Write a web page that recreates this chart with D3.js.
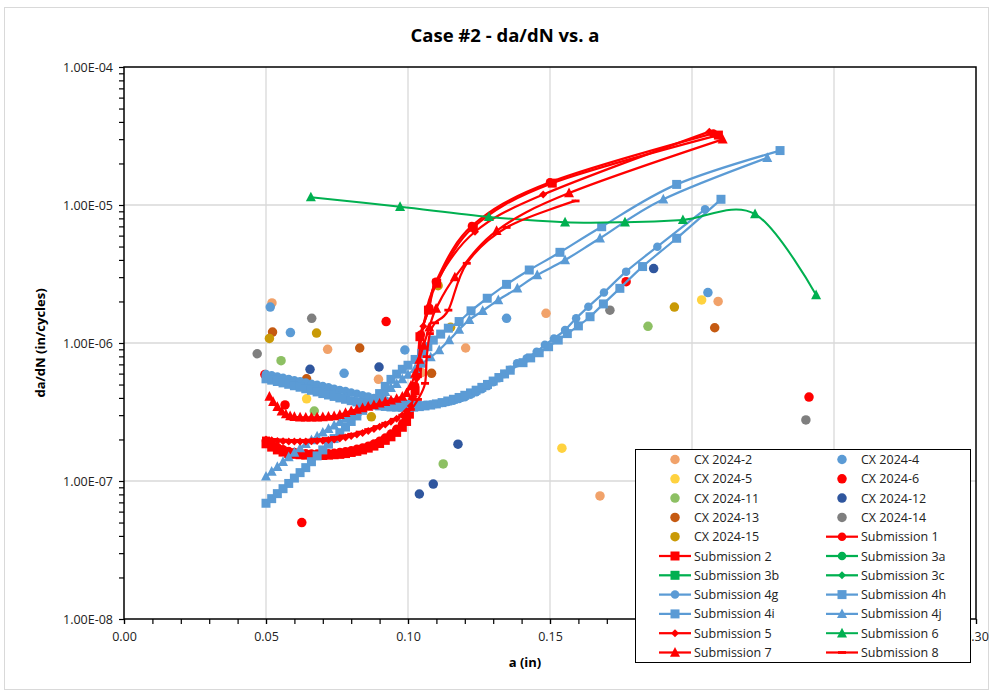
<!DOCTYPE html>
<html>
<head>
<meta charset="utf-8">
<script src="https://cdn.jsdelivr.net/npm/d3@7"></script>
<style>
  body { margin: 0; background: #fff; }
  svg { display: block; font-family: "Open Sans", sans-serif; }
</style>
</head>
<body>
<svg id="chart" width="993" height="691"></svg>
<script>
// ---- axis ticks ----
const xTicks = [0, 0.05, 0.10, 0.15, 0.20, 0.25, 0.30];
const yTicks = [1e-8, 1e-7, 1e-6, 1e-5, 1e-4];

// ---- scatter data: [a (in), da/dN (in/cycle)] ----
const cx2  = [[0.0521,1.95e-6],[0.0717,9.0e-7],[0.0896,5.46e-7],[0.1048,6.1e-7],[0.1203,9.2e-7],[0.1486,1.64e-6],[0.1676,7.8e-8],[0.2092,2.0e-6]];
const cx4  = [[0.0515,1.82e-6],[0.0586,1.19e-6],[0.0775,6.03e-7],[0.0989,8.9e-7],[0.1347,1.51e-6],[0.2056,2.32e-6]];
const cx5  = [[0.0643,3.94e-7],[0.1542,1.73e-7],[0.2034,2.05e-6]];
const cx6  = [[0.0496,5.9e-7],[0.0567,3.56e-7],[0.0626,5.0e-8],[0.0923,1.43e-6],[0.1768,2.78e-6],[0.2412,4.06e-7]];
const cx11 = [[0.0553,7.45e-7],[0.0670,3.21e-7],[0.1124,1.33e-7],[0.1845,1.32e-6]];
const cx12 = [[0.0655,6.45e-7],[0.0898,6.7e-7],[0.1040,8.05e-8],[0.1089,9.5e-8],[0.1176,1.85e-7],[0.1865,3.46e-6]];
const cx13 = [[0.0523,1.2e-6],[0.0643,5.5e-7],[0.0830,9.2e-7],[0.1083,6.03e-7],[0.2080,1.29e-6]];
const cx14 = [[0.0469,8.36e-7],[0.0661,1.51e-6],[0.1711,1.73e-6],[0.2401,2.77e-7]];
const cx15 = [[0.0512,1.08e-6],[0.0678,1.18e-6],[0.0871,2.92e-7],[0.1106,2.6e-6],[0.1150,1.3e-6],[0.1938,1.82e-6]];

// ---- submission curves: crack length a and growth rate ----
const sub1A = [0.050,0.052,0.054,0.056,0.058,0.060,0.062,0.064,0.066,0.068,0.070,0.072,0.074,0.076,0.078,0.080,0.082,0.084,0.086,0.088,0.090,0.092,0.094,0.096,0.098,0.0995,0.1005,0.1015,0.1025,0.1035,0.1045,0.1075,0.1098,0.1225,0.1500,0.2075];
const sub1Y = [1.95e-7,1.84e-7,1.76e-7,1.7e-7,1.65e-7,1.62e-7,1.6e-7,1.59e-7,1.58e-7,1.58e-7,1.58e-7,1.59e-7,1.6e-7,1.62e-7,1.64e-7,1.67e-7,1.71e-7,1.75e-7,1.8e-7,1.87e-7,1.96e-7,2.07e-7,2.21e-7,2.39e-7,2.62e-7,2.9e-7,3.3e-7,3.9e-7,4.9e-7,6.5e-7,1.15e-6,1.8e-6,2.78e-6,7.05e-6,1.46e-5,3.3e-5];

const sub2A = [0.050,0.052,0.054,0.056,0.058,0.060,0.062,0.064,0.066,0.068,0.070,0.072,0.074,0.076,0.078,0.080,0.082,0.084,0.086,0.088,0.090,0.092,0.094,0.096,0.098,0.0995,0.1005,0.1015,0.1025,0.1033,0.1042,0.1072,0.1101,0.1230,0.1508,0.2093];
const sub2Y = [1.86e-7,1.76e-7,1.68e-7,1.62e-7,1.58e-7,1.56e-7,1.55e-7,1.54e-7,1.53e-7,1.53e-7,1.53e-7,1.54e-7,1.55e-7,1.56e-7,1.58e-7,1.61e-7,1.64e-7,1.68e-7,1.73e-7,1.79e-7,1.87e-7,1.97e-7,2.09e-7,2.25e-7,2.45e-7,2.7e-7,3.05e-7,3.6e-7,4.5e-7,6.0e-7,1.11e-6,1.73e-6,2.71e-6,6.9e-6,1.44e-5,3.21e-5];

const sub3aA = [], sub3aY = [];
const sub3bA = [], sub3bY = [];
const sub3cA = [], sub3cY = [];

const sub4gA = [0.050,0.052,0.054,0.056,0.058,0.060,0.062,0.064,0.066,0.068,0.070,0.072,0.074,0.076,0.078,0.080,0.082,0.084,0.086,0.088,0.090,0.092,0.094,0.096,0.098,0.100,0.102,0.104,0.106,0.108,0.110,0.112,0.114,0.116,0.118,0.120,0.122,0.124,0.126,0.128,0.130,0.132,0.134,0.136,0.1384,0.1418,0.1453,0.1482,0.1514,0.1553,0.1592,0.1635,0.169,0.1768,0.1878,0.2046];
const sub4gY = [5.95e-7,5.83e-7,5.71e-7,5.59e-7,5.48e-7,5.38e-7,5.28e-7,5.17e-7,5.07e-7,4.98e-7,4.88e-7,4.78e-7,4.67e-7,4.57e-7,4.48e-7,4.38e-7,4.28e-7,4.19e-7,4.09e-7,4.0e-7,3.92e-7,3.84e-7,3.77e-7,3.71e-7,3.66e-7,3.62e-7,3.59e-7,3.57e-7,3.57e-7,3.59e-7,3.62e-7,3.67e-7,3.73e-7,3.82e-7,3.93e-7,4.05e-7,4.21e-7,4.4e-7,4.62e-7,4.87e-7,5.2e-7,5.56e-7,5.95e-7,6.4e-7,7.13e-7,7.75e-7,8.65e-7,9.7e-7,1.08e-6,1.24e-6,1.51e-6,1.83e-6,2.32e-6,3.29e-6,4.99e-6,9.3e-6];

const sub4hA = [0.050,0.052,0.054,0.056,0.058,0.060,0.062,0.064,0.066,0.068,0.070,0.072,0.074,0.076,0.078,0.080,0.082,0.084,0.086,0.088,0.090,0.092,0.094,0.096,0.098,0.100,0.1025,0.1048,0.1070,0.1089,0.1115,0.1142,0.1180,0.1222,0.1279,0.1347,0.1427,0.1535,0.1682,0.1946,0.2310];
const sub4hY = [6.9e-8,7.45e-8,8.1e-8,8.8e-8,9.6e-8,1.05e-7,1.15e-7,1.25e-7,1.38e-7,1.52e-7,1.68e-7,1.85e-7,2.03e-7,2.24e-7,2.46e-7,2.7e-7,2.96e-7,3.25e-7,3.55e-7,3.9e-7,4.3e-7,4.85e-7,5.45e-7,5.95e-7,6.45e-7,6.9e-7,7.6e-7,8.4e-7,9.4e-7,1.05e-6,1.16e-6,1.28e-6,1.43e-6,1.71e-6,2.11e-6,2.66e-6,3.38e-6,4.54e-6,6.96e-6,1.41e-5,2.48e-5];

const sub4iA = [0.050,0.052,0.054,0.056,0.058,0.060,0.062,0.064,0.066,0.068,0.070,0.072,0.074,0.076,0.078,0.080,0.082,0.084,0.086,0.088,0.090,0.092,0.094,0.096,0.098,0.100,0.102,0.104,0.106,0.108,0.110,0.112,0.114,0.116,0.118,0.120,0.122,0.124,0.126,0.128,0.130,0.132,0.134,0.136,0.1405,0.1432,0.1462,0.1495,0.1529,0.1561,0.160,0.1641,0.1688,0.1746,0.1826,0.1946,0.2102];
const sub4iY = [5.5e-7,5.38e-7,5.26e-7,5.14e-7,5.02e-7,4.9e-7,4.78e-7,4.66e-7,4.54e-7,4.42e-7,4.3e-7,4.2e-7,4.1e-7,4.0e-7,3.91e-7,3.82e-7,3.74e-7,3.67e-7,3.6e-7,3.55e-7,3.5e-7,3.47e-7,3.44e-7,3.43e-7,3.42e-7,3.42e-7,3.43e-7,3.46e-7,3.5e-7,3.55e-7,3.62e-7,3.7e-7,3.8e-7,3.91e-7,4.03e-7,4.18e-7,4.35e-7,4.55e-7,4.77e-7,5.01e-7,5.3e-7,5.62e-7,5.97e-7,6.35e-7,7.2e-7,7.8e-7,8.5e-7,9.4e-7,1.05e-6,1.17e-6,1.33e-6,1.55e-6,1.92e-6,2.49e-6,3.58e-6,5.74e-6,1.1e-5];

const sub4jA = [0.050,0.052,0.054,0.056,0.058,0.060,0.062,0.064,0.066,0.068,0.070,0.072,0.074,0.076,0.078,0.080,0.082,0.084,0.086,0.088,0.090,0.092,0.094,0.096,0.098,0.100,0.1025,0.1050,0.1080,0.1110,0.1145,0.1180,0.1216,0.1263,0.1318,0.1385,0.1455,0.1553,0.1676,0.1899,0.2265];
const sub4jY = [1.08e-7,1.17e-7,1.27e-7,1.38e-7,1.49e-7,1.61e-7,1.73e-7,1.86e-7,1.98e-7,2.11e-7,2.25e-7,2.39e-7,2.53e-7,2.68e-7,2.84e-7,3.0e-7,3.17e-7,3.38e-7,3.62e-7,3.88e-7,4.15e-7,4.43e-7,4.73e-7,5.07e-7,5.48e-7,5.9e-7,6.5e-7,7.1e-7,7.9e-7,8.9e-7,1.05e-6,1.25e-6,1.47e-6,1.71e-6,2.05e-6,2.49e-6,3.11e-6,3.99e-6,5.74e-6,1.1e-5,2.2e-5];

const sub5A = [0.050,0.052,0.054,0.056,0.058,0.060,0.062,0.064,0.066,0.068,0.070,0.072,0.074,0.076,0.078,0.080,0.082,0.084,0.086,0.088,0.090,0.092,0.094,0.096,0.098,0.0995,0.101,0.102,0.103,0.1054,0.1101,0.1236,0.1476,0.2061];
const sub5Y = [2.0e-7,1.97e-7,1.95e-7,1.94e-7,1.93e-7,1.93e-7,1.93e-7,1.93e-7,1.94e-7,1.95e-7,1.96e-7,1.98e-7,2.0e-7,2.03e-7,2.07e-7,2.12e-7,2.17e-7,2.23e-7,2.3e-7,2.38e-7,2.47e-7,2.57e-7,2.69e-7,2.83e-7,3.0e-7,3.2e-7,3.5e-7,4.1e-7,5.5e-7,1.32e-6,2.78e-6,6.4e-6,1.19e-5,3.40e-5];

const sub6A = [0.0658,0.0972,0.1285,0.1553,0.1764,0.1968,0.2222,0.2437];
const sub6Y = [1.14e-5,9.7e-6,8.2e-6,7.5e-6,7.5e-6,7.8e-6,8.6e-6,2.23e-6];

const sub7A = [0.0512,0.0525,0.054,0.0555,0.057,0.0585,0.060,0.062,0.064,0.066,0.068,0.070,0.072,0.074,0.076,0.078,0.080,0.082,0.084,0.086,0.088,0.090,0.092,0.094,0.096,0.098,0.0995,0.101,0.1025,0.104,0.1055,0.1075,0.1099,0.1165,0.1312,0.1567,0.2108];
const sub7Y = [4.1e-7,3.75e-7,3.45e-7,3.2e-7,3.05e-7,2.96e-7,2.92e-7,2.9e-7,2.89e-7,2.89e-7,2.9e-7,2.91e-7,2.93e-7,2.96e-7,3.02e-7,3.12e-7,3.22e-7,3.3e-7,3.38e-7,3.47e-7,3.55e-7,3.65e-7,3.75e-7,3.85e-7,3.95e-7,4.1e-7,4.35e-7,4.9e-7,6.0e-7,7.6e-7,9.6e-7,1.3e-6,1.78e-6,3.0e-6,6.5e-6,1.22e-5,2.99e-5];

const sub8A = [0.050,0.053,0.056,0.059,0.062,0.065,0.068,0.071,0.074,0.077,0.080,0.083,0.086,0.089,0.092,0.095,0.098,0.101,0.1035,0.1060,0.1066,0.1077,0.1095,0.1142,0.1207,0.1347,0.1590];
const sub8Y = [2.05e-7,2.0e-7,1.98e-7,1.97e-7,1.97e-7,1.98e-7,2.0e-7,2.03e-7,2.07e-7,2.12e-7,2.18e-7,2.26e-7,2.36e-7,2.48e-7,2.62e-7,2.8e-7,3.0e-7,3.3e-7,3.9e-7,5.1e-7,7.96e-7,1.17e-6,1.4e-6,1.73e-6,3.78e-6,6.88e-6,1.07e-5];

// ---- colours ----
const RED = "#FF0000", GREEN = "#00B050", BLUE = "#5B9BD5";

// series table, in drawing order (later series sit on top)
const series = [
  { name: "CX 2024-2",  pts: cx2,  color: "#F1A26A", marker: "circle", size: 9.5 },
  { name: "CX 2024-4",  pts: cx4,  color: BLUE,      marker: "circle", size: 9.5 },
  { name: "CX 2024-5",  pts: cx5,  color: "#FFD23F", marker: "circle", size: 9.5 },
  { name: "CX 2024-6",  pts: cx6,  color: RED,       marker: "circle", size: 9.5 },
  { name: "CX 2024-11", pts: cx11, color: "#8DC063", marker: "circle", size: 9.5 },
  { name: "CX 2024-12", pts: cx12, color: "#2F569E", marker: "circle", size: 9.5 },
  { name: "CX 2024-13", pts: cx13, color: "#C55A11", marker: "circle", size: 9.5 },
  { name: "CX 2024-14", pts: cx14, color: "#7F7F7F", marker: "circle", size: 9.5 },
  { name: "CX 2024-15", pts: cx15, color: "#C99A06", marker: "circle", size: 9.5 },
  { name: "Submission 1",  pts: d3.zip(sub1A, sub1Y),   color: RED,   marker: "circle",   size: 8.5, line: true },
  { name: "Submission 2",  pts: d3.zip(sub2A, sub2Y),   color: RED,   marker: "square",   size: 9,   line: true },
  { name: "Submission 3a", pts: d3.zip(sub3aA, sub3aY), color: GREEN, marker: "circle",   size: 8.5, line: true },
  { name: "Submission 3b", pts: d3.zip(sub3bA, sub3bY), color: GREEN, marker: "square",   size: 9,   line: true },
  { name: "Submission 3c", pts: d3.zip(sub3cA, sub3cY), color: GREEN, marker: "diamond",  size: 8,   line: true },
  { name: "Submission 4g", pts: d3.zip(sub4gA, sub4gY), color: BLUE,  marker: "circle",   size: 8.5, line: true },
  { name: "Submission 4h", pts: d3.zip(sub4hA, sub4hY), color: BLUE,  marker: "square",   size: 9,   line: true },
  { name: "Submission 4i", pts: d3.zip(sub4iA, sub4iY), color: BLUE,  marker: "square",   size: 9,   line: true },
  { name: "Submission 4j", pts: d3.zip(sub4jA, sub4jY), color: BLUE,  marker: "triangle", size: 10,  line: true },
  { name: "Submission 5",  pts: d3.zip(sub5A, sub5Y),   color: RED,   marker: "diamond",  size: 8,   line: true },
  { name: "Submission 6",  pts: d3.zip(sub6A, sub6Y),   color: GREEN, marker: "triangle", size: 10,  line: true, width: 2 },
  { name: "Submission 7",  pts: d3.zip(sub7A, sub7Y),   color: RED,   marker: "triangle", size: 10,  line: true },
  { name: "Submission 8",  pts: d3.zip(sub8A, sub8Y),   color: RED,   marker: "dash",     size: 8,   line: true }
];

// ---- layout ----
const svg = d3.select("#chart");
const plot = { left: 124, right: 976, top: 67, bottom: 619 };
const legendBox = { x: 635, y: 449, w: 335, h: 213 };
const x = d3.scaleLinear().domain([0, 0.30]).range([plot.left, plot.right]);
const y = d3.scaleLog().domain([1e-8, 1e-4]).range([plot.bottom, plot.top]);

// chart area border
svg.append("rect").attr("x", 4.5).attr("y", 7.5).attr("width", 984).attr("height", 682)
  .attr("fill", "#fff").attr("stroke", "#D9D9D9").attr("stroke-width", 1);

// title
svg.append("text").attr("x", 505).attr("y", 42).attr("text-anchor", "middle")
  .attr("font-size", 18.5).attr("font-weight", "bold").attr("fill", "#000")
  .text("Case #2 - da/dN vs. a");

// gridlines
const grid = svg.append("g").attr("stroke", "#D9D9D9").attr("stroke-width", 1.3);
grid.selectAll(".vx").data(xTicks.filter(v => v > 0 && v < 0.30)).join("line")
  .attr("x1", d => x(d)).attr("x2", d => x(d)).attr("y1", plot.top).attr("y2", plot.bottom);
grid.selectAll(".hy").data(yTicks.filter(v => v > 1e-8 && v < 1e-4)).join("line")
  .attr("x1", plot.left).attr("x2", plot.right).attr("y1", d => y(d)).attr("y2", d => y(d));

// axes
const expLabel = v => {
  const e = Math.round(Math.log10(v));
  return "1.00E" + (e < 0 ? "-" : "+") + String(Math.abs(e)).padStart(2, "0");
};
const xMinor = d3.range(0, 31).map(i => i / 100);
const yMinor = [];
yTicks.slice(0, -1).forEach(d => { for (let k = 2; k <= 9; k++) yMinor.push(k * d); });

const styleAxis = g => {
  g.select(".domain").remove();
  g.selectAll("line").attr("stroke", "#000").attr("stroke-width", 1.2);
  g.selectAll("text").attr("font-family", "'Open Sans', sans-serif").attr("font-size", 12.5).attr("fill", "#222");
};

// labels whose centre falls behind the legend panel are not drawn
const xLabelTicks = xTicks.filter(v => x(v) < legendBox.x || x(v) > legendBox.x + legendBox.w);

svg.append("g").attr("transform", `translate(0,${plot.bottom})`)
  .call(d3.axisBottom(x).tickValues(xMinor).tickSize(5).tickFormat(""))
  .call(styleAxis);
svg.append("g").attr("transform", `translate(0,${plot.bottom})`)
  .call(d3.axisBottom(x).tickValues(xLabelTicks).tickSize(5).tickPadding(8).tickFormat(d3.format(".2f")))
  .call(styleAxis);
svg.append("g").attr("transform", `translate(${plot.left},0)`)
  .call(d3.axisLeft(y).tickValues(yMinor).tickSize(5).tickFormat(""))
  .call(styleAxis);
svg.append("g").attr("transform", `translate(${plot.left},0)`)
  .call(d3.axisLeft(y).tickValues(yTicks).tickSize(5).tickPadding(6).tickFormat(expLabel))
  .call(styleAxis);

// plot frame
svg.append("rect").attr("x", plot.left).attr("y", plot.top)
  .attr("width", plot.right - plot.left).attr("height", plot.bottom - plot.top)
  .attr("fill", "none").attr("stroke", "#000").attr("stroke-width", 1.5);

// axis titles
svg.append("text").attr("x", 525).attr("y", 667).attr("text-anchor", "middle")
  .attr("font-size", 13).attr("font-weight", "bold").text("a (in)");
svg.append("text").attr("transform", "translate(45,343) rotate(-90)").attr("text-anchor", "middle")
  .attr("font-size", 13).attr("font-weight", "bold").text("da/dN (in/cycles)");

// marker shapes, centred on the origin
function markerPath(type, s) {
  const h = s / 2;
  switch (type) {
    case "circle":   return d3.symbol(d3.symbolCircle, Math.PI * h * h)();
    case "square":   return `M${-h},${-h}h${s}v${s}h${-s}Z`;
    case "diamond":  return `M0,${-h}L${h},0L0,${h}L${-h},0Z`;
    case "triangle": return `M0,${-0.55 * s}L${h},${0.42 * s}L${-h},${0.42 * s}Z`;
    case "dash":     return `M${-h},-1.4h${s}v2.8h${-s}Z`;
  }
}

// data layer
const lineGen = d3.line().x(d => x(d[0])).y(d => y(d[1])).curve(d3.curveCardinal.tension(0));
const data = svg.append("g");
series.forEach(s => {
  const g = data.append("g");
  if (s.line && s.pts.length > 1) {
    g.append("path").attr("d", lineGen(s.pts)).attr("fill", "none")
      .attr("stroke", s.color).attr("stroke-width", s.width || 2.25)
      .attr("stroke-linejoin", "round").attr("stroke-linecap", "round");
  }
  g.selectAll("path.m").data(s.pts).join("path").attr("class", "m")
    .attr("d", markerPath(s.marker, s.size))
    .attr("transform", d => `translate(${x(d[0])},${y(d[1])})`)
    .attr("fill", s.color);
});

// legend
const lg = svg.append("g").attr("transform", `translate(${legendBox.x},${legendBox.y})`);
lg.append("rect").attr("x", 0.5).attr("y", 0.5).attr("width", legendBox.w).attr("height", legendBox.h)
  .attr("fill", "#fff").attr("stroke", "#000").attr("stroke-width", 1);
series.forEach((s, i) => {
  const col = i % 2, row = Math.floor(i / 2);
  const cx = col === 0 ? 40 : 207;
  const cy = 10.5 + row * 19.3;
  const item = lg.append("g");
  if (s.line) {
    item.append("line").attr("x1", cx - 16).attr("x2", cx + 16).attr("y1", cy).attr("y2", cy)
      .attr("stroke", s.color).attr("stroke-width", s.width || 2.25);
  }
  item.append("path").attr("d", markerPath(s.marker, s.size))
    .attr("transform", `translate(${cx},${cy})`).attr("fill", s.color);
  item.append("text").attr("x", cx + 19).attr("y", cy + 4.5)
    .attr("font-size", 12.5).attr("fill", "#222").text(s.name);
});
</script>
</body>
</html>
